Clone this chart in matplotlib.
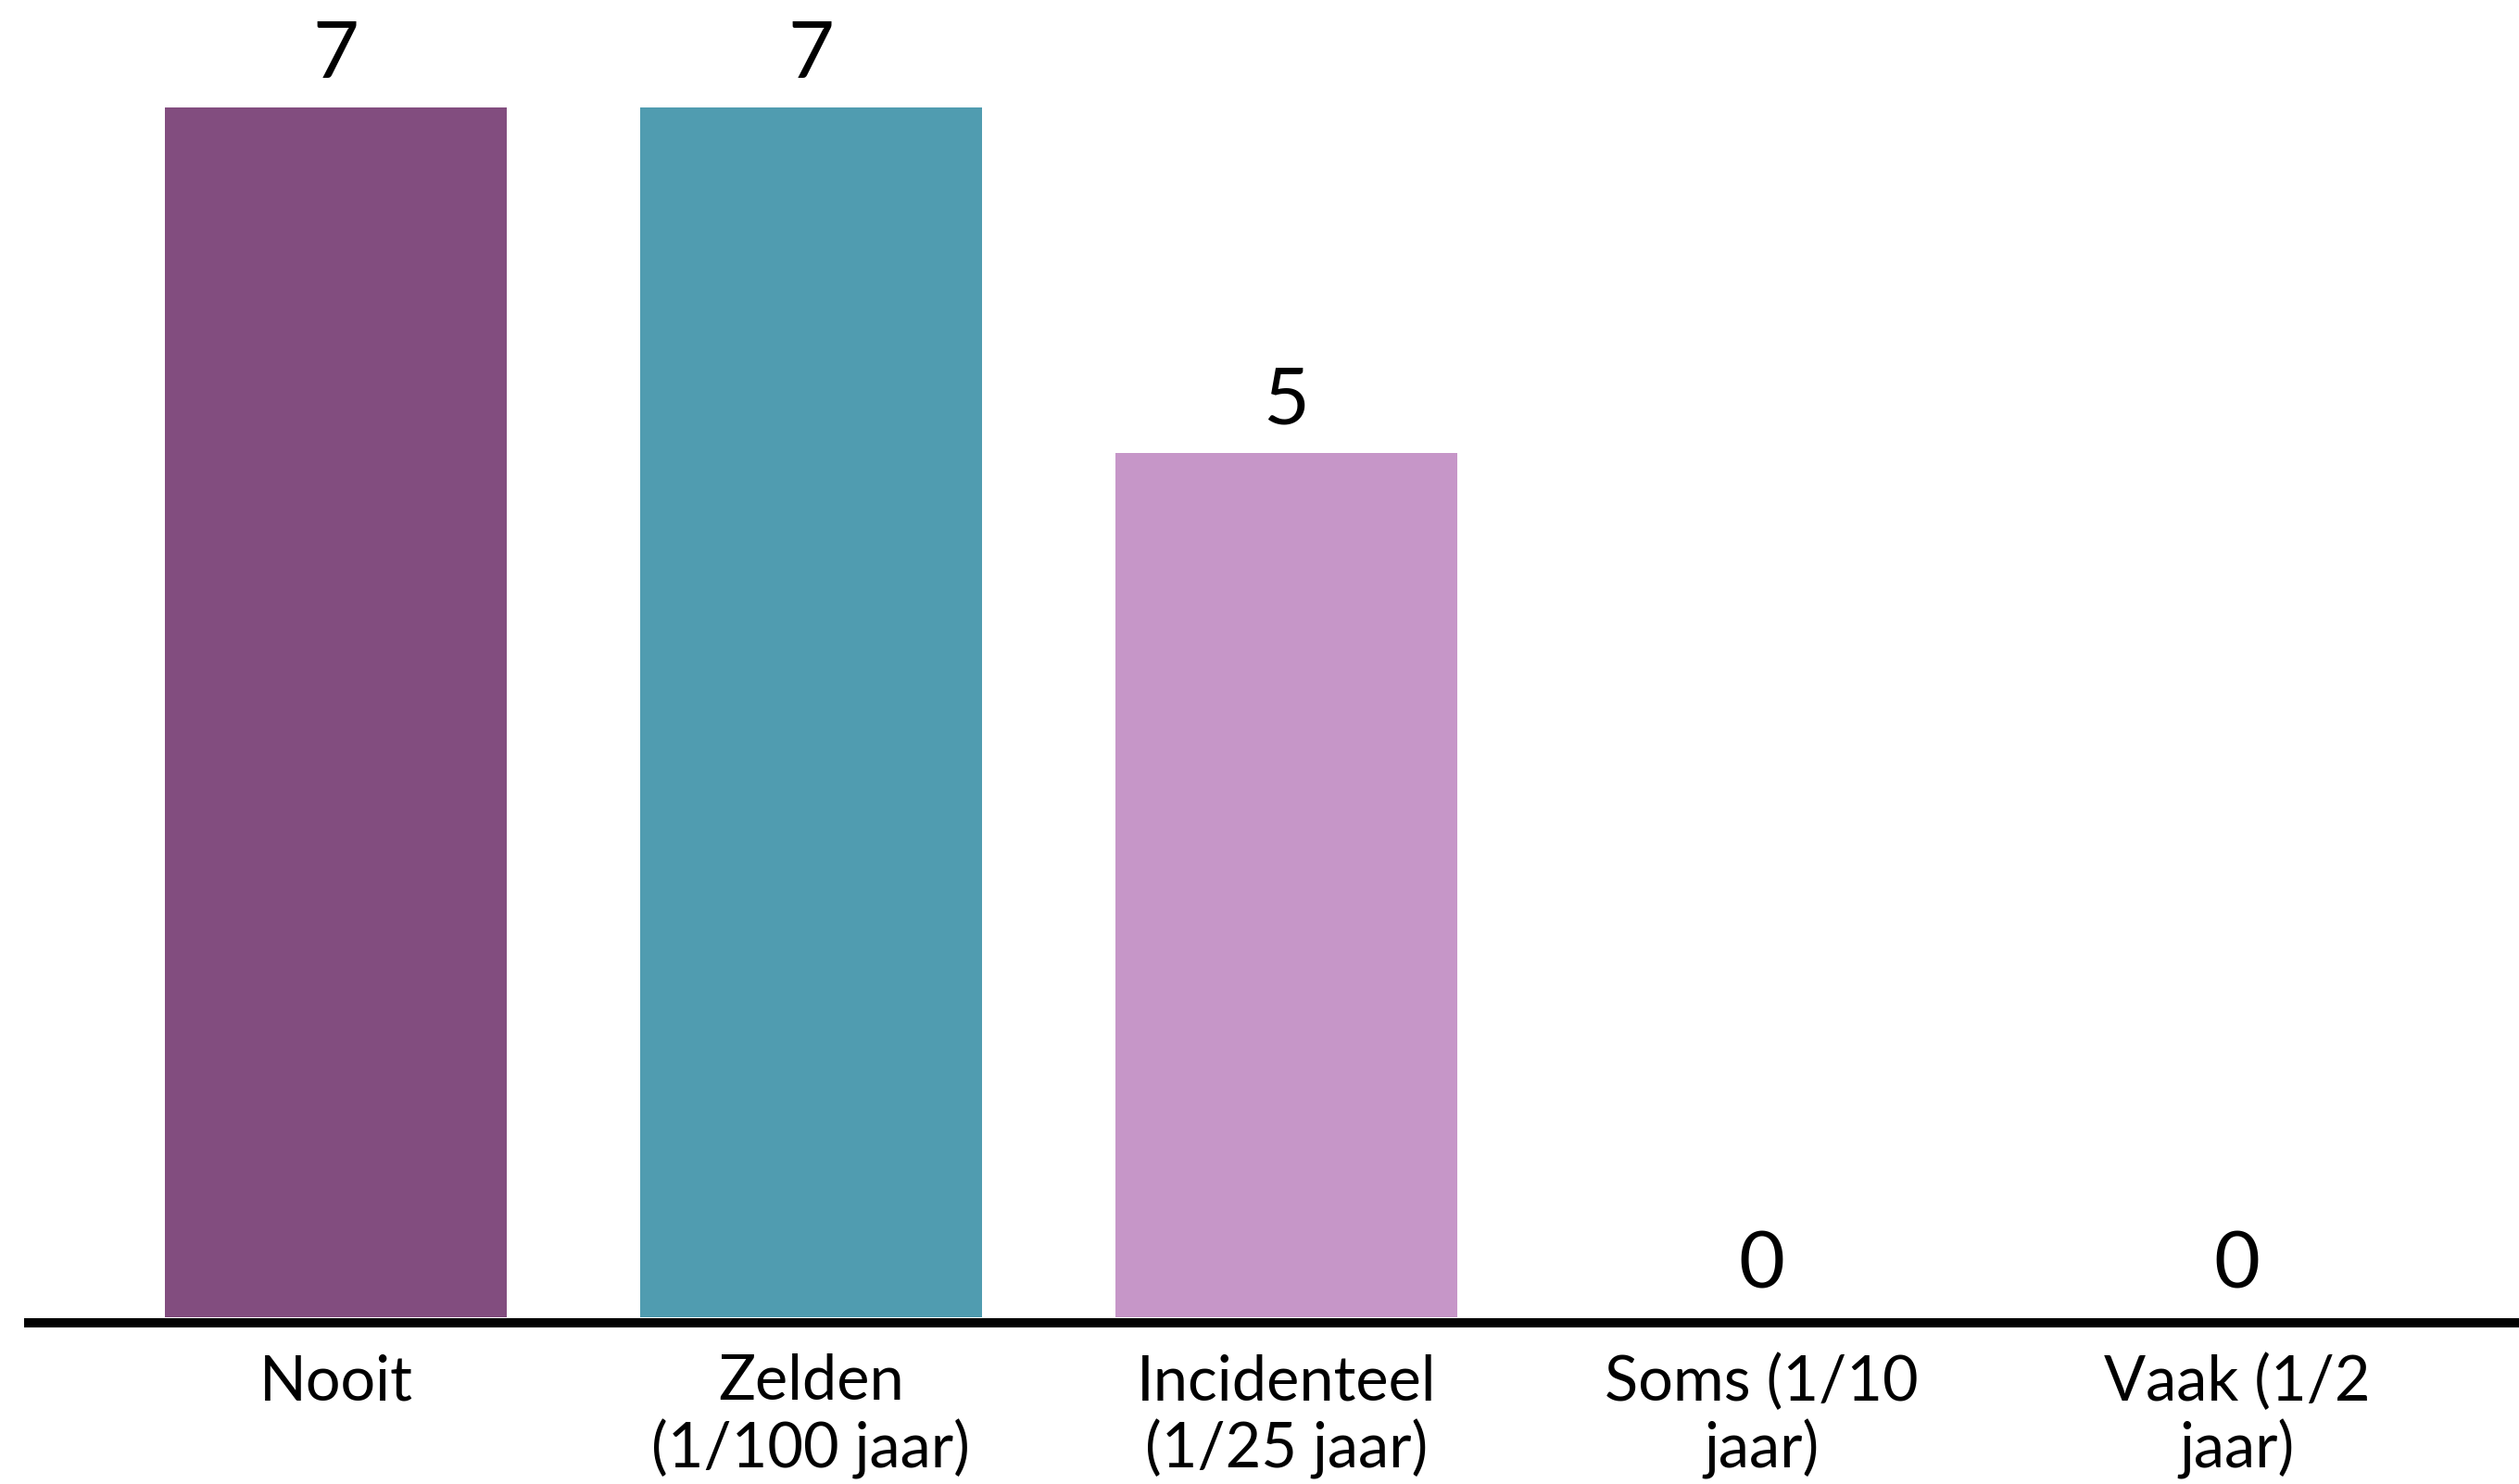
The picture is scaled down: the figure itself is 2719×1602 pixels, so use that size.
import matplotlib
matplotlib.use("Agg")
import matplotlib.pyplot as plt

plt.rcParams["font.family"] = ["Lato", "DejaVu Sans"]

categories = [
    "Nooit",
    "Zelden\n(1/100 jaar)",
    "Incidenteel\n(1/25 jaar)",
    "Soms (1/10\njaar)",
    "Vaak (1/2\njaar)",
]
counts = [7, 7, 5, 0, 0]
colours = ["#824D7F", "#509CB0", "#C696C8", "#C696C8", "#C696C8"]

fig = plt.figure(figsize=(13.595, 8.01), dpi=200)
left = 31 / 2719
bottom = 174 / 1602
ax = fig.add_axes([left, bottom, 1 - left, 1 - bottom])

x = list(range(len(categories)))
bars = ax.bar(x, counts, width=0.72, color=colours)
ax.bar_label(bars, labels=[str(c) for c in counts], padding=6, fontsize=31, color="black")

ax.set_xlim(-0.646, 4.594)
ax.set_ylim(-0.03, 7.62)
ax.set_xticks(x)
ax.set_xticklabels(categories, fontsize=24, linespacing=1.15)
ax.tick_params(axis="x", length=0, pad=12)
ax.set_yticks([])
ax.spines[["top", "right", "left"]].set_visible(False)
ax.spines["bottom"].set_linewidth(3.6)

fig.savefig("out.png", dpi=200)
